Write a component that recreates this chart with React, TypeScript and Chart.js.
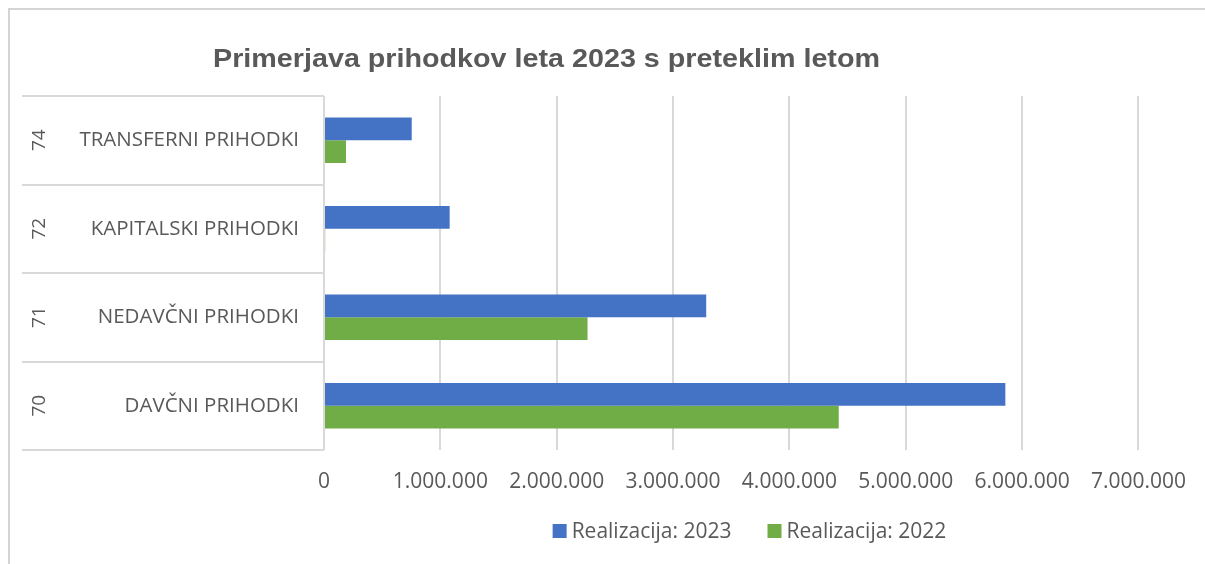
import React, { useEffect, useRef } from "react";
import { Chart, registerables } from "chart.js";

Chart.register(...registerables);

const chartTitle = "Primerjava prihodkov leta 2023 s preteklim letom";
const codes = ["74", "72", "71", "70"];
const categories = ["TRANSFERNI PRIHODKI", "KAPITALSKI PRIHODKI", "NEDAVČNI PRIHODKI", "DAVČNI PRIHODKI"];
const seriesNames = ["Realizacija: 2023", "Realizacija: 2022"];
const realizacija2023 = [754000, 1080000, 3285000, 5856000];
const realizacija2022 = [189000, 10000, 2265000, 4424000];
const seriesColors = ["#4472C4", "#70AD47"];
const xMax = 7000000;
const xStep = 1000000;

const TEXT = "#595959";
const FONT = '"Open Sans"';

const fmt = (v: number) => String(Math.round(v)).replace(/\B(?=(\d{3})+(?!\d))/g, ".");

const decor = {
  id: "decor",
  beforeDraw(chart: any) {
    const ctx = chart.ctx;
    const { top, bottom, left } = chart.chartArea;
    ctx.save();
    ctx.fillStyle = "#ffffff";
    ctx.fillRect(0, 0, chart.width, chart.height);
    ctx.strokeStyle = "#d4d4d4";
    ctx.lineWidth = 2;
    ctx.beginPath();
    ctx.moveTo(9, chart.height);
    ctx.lineTo(9, 9);
    ctx.lineTo(chart.width, 9);
    ctx.stroke();
    ctx.strokeStyle = "#d9d9d9";
    const n = codes.length;
    const h = (bottom - top) / n;
    ctx.beginPath();
    for (let i = 0; i <= n; i++) {
      const y = Math.round(top + i * h);
      ctx.moveTo(22, y);
      ctx.lineTo(left, y);
    }
    ctx.stroke();
    ctx.restore();
  },
  afterDraw(chart: any) {
    const ctx = chart.ctx;
    const yScale = chart.scales.y;
    ctx.save();
    ctx.fillStyle = TEXT;
    // outer category codes
    ctx.font = `19px ${FONT}`;
    ctx.textAlign = "center";
    ctx.textBaseline = "middle";
    codes.forEach((c, i) => {
      const y = yScale.getPixelForValue(i);
      ctx.save();
      ctx.translate(39.5, y);
      ctx.rotate(-Math.PI / 2);
      ctx.fillText(c, 0, 0);
      ctx.restore();
    });
    // title
    ctx.font = `bold 26px "Liberation Sans"`;
    ctx.textAlign = "center";
    ctx.textBaseline = "alphabetic";
    const tw = ctx.measureText(chartTitle).width;
    const sx = 667 / tw;
    ctx.save();
    ctx.translate(546.5, 67);
    ctx.scale(sx, 1);
    ctx.fillText(chartTitle, 0, 0);
    ctx.restore();
    // legend
    ctx.font = `21px ${FONT}`;
    const box = 14;
    const gapText = 5;
    const gapItems = 36;
    const widths = seriesNames.map((s) => ctx.measureText(s).width);
    const total = widths.reduce((a, w) => a + box + gapText + w, 0) + gapItems * (seriesNames.length - 1);
    let x = 749.5 - total / 2;
    const cy = 531;
    ctx.textAlign = "left";
    ctx.textBaseline = "middle";
    seriesNames.forEach((s, i) => {
      ctx.fillStyle = seriesColors[i];
      ctx.fillRect(x, cy - box / 2, box, box);
      x += box + gapText;
      ctx.fillStyle = TEXT;
      ctx.fillText(s, x, cy + 1);
      x += widths[i] + gapItems;
    });
    ctx.restore();
  },
};

export default function App() {
  const ref = useRef<HTMLCanvasElement>(null);
  useEffect(() => {
    if (!ref.current) return;
    const chart = new Chart(ref.current, {
      type: "bar",
      data: {
        labels: categories,
        datasets: [
          { label: seriesNames[0], data: realizacija2023, backgroundColor: seriesColors[0] },
          { label: seriesNames[1], data: realizacija2022, backgroundColor: seriesColors[1] },
        ],
      },
      options: {
        indexAxis: "y",
        responsive: false,
        animation: false,
        devicePixelRatio: 1,
        categoryPercentage: 0.515,
        barPercentage: 1,
        layout: { padding: { top: 96, right: 64, left: 0, bottom: 0 } },
        plugins: {
          legend: { display: false },
          title: { display: false },
          tooltip: { enabled: false },
        },
        scales: {
          x: {
            min: 0,
            max: xMax,
            afterFit: (s: any) => {
              s.height = 114;
            },
            ticks: {
              stepSize: xStep,
              color: TEXT,
              font: { family: FONT, size: 21 },
              padding: 19,
              maxRotation: 0,
              callback: (v: any) => fmt(Number(v)),
            },
            grid: { color: "#d9d9d9", lineWidth: 2, drawTicks: false },
            border: { display: false },
          },
          y: {
            afterFit: (s: any) => {
              s.width = 324;
            },
            ticks: {
              color: TEXT,
              font: { family: FONT, size: 20.5 },
              padding: 25,
            },
            grid: { display: false, drawTicks: false },
            border: { display: false },
          },
        },
      } as any,
      plugins: [decor],
    });
    return () => chart.destroy();
  }, []);
  return (
    <div style={{ position: "absolute", left: 0, top: 0, width: 1205, height: 564, background: "#fff" }}>
      <canvas ref={ref} width={1205} height={564} style={{ display: "block" }} />
    </div>
  );
}
